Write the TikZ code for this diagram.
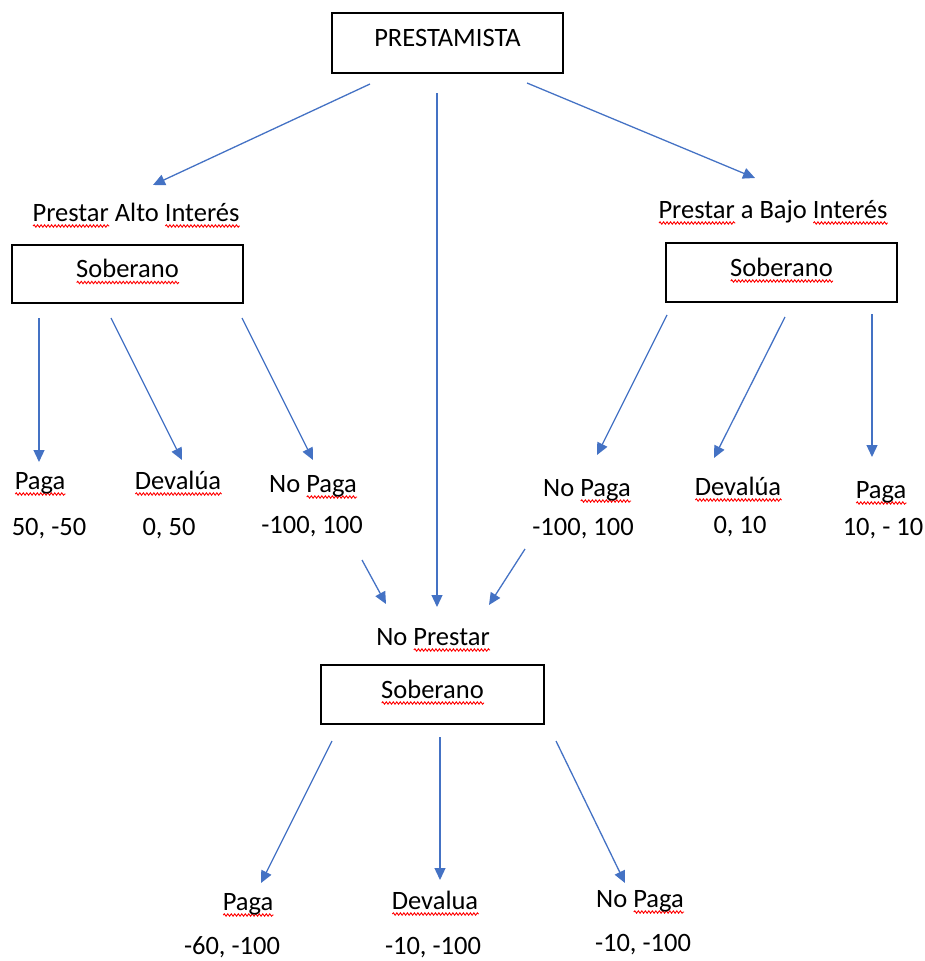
\documentclass[tikz,border=0pt]{standalone}
\usepackage{fontspec}
\setmainfont{Carlito}
\usetikzlibrary{arrows.meta,decorations.pathmorphing}
\definecolor{arrowblue}{HTML}{4472C4}
\newlength\rwlen
\newcommand\rw[1]{\settowidth{\rwlen}{#1}\rlap{\raisebox{-5pt}{\tikz[baseline=0pt,x=1pt,y=1pt]\draw[red,line width=0.9pt,decorate,decoration={snake,amplitude=1.2pt,segment length=3.5pt}] (0,0) -- (\rwlen,0);}}#1}
\tikzset{
  lbl/.style={inner sep=0pt, anchor=base, font=\fontsize{26.5}{30}\selectfont},
  boxnode/.style={draw=black, line width=1.4pt, inner sep=0pt, minimum width=231pt, minimum height=58pt,
    text height=13pt, text depth=6pt, font=\fontsize{26.5}{30}\selectfont},
  arr/.style={draw=arrowblue, line width=1.3pt, -{Triangle[length=12pt,width=11pt]}}
}
\begin{document}
\begin{tikzpicture}[x=1pt,y=-1pt]
\path[use as bounding box] (0,0) rectangle (924,961);
% boxes
\node[boxnode, minimum height=60pt] (root) at (447.5,43) {PRESTAMISTA};
\node[boxnode] (sA) at (127.5,274) {\rw{Soberano}};
\node[boxnode, minimum height=59pt] (sB) at (781.5,272.5) {\rw{Soberano}};
\node[boxnode, minimum width=223pt, minimum height=59pt] (sC) at (432.5,694.5) {\rw{Soberano}};
% branch labels
\node[lbl] (lA) at (136,221) {\rw{Prestar} Alto \rw{Interés}};
\node[lbl] (lB) at (773,218) {\rw{Prestar} a Bajo \rw{Interés}};
\node[lbl] (lC) at (433,645) {No \rw{Prestar}};
% leaves A
\node[lbl] (pA) at (40,489) {\rw{Paga}};
\node[lbl] (dA) at (178,489) {\rw{Devalúa}};
\node[lbl] (nA) at (313,492) {No \rw{Paga}};
\node[lbl] (vA1) at (49,535) {50, -50};
\node[lbl] (vA2) at (169,535) {0, 50};
\node[lbl] (vA3) at (312,533) {-100, 100};
% leaves B
\node[lbl] (nB) at (587,496) {No \rw{Paga}};
\node[lbl] (dB) at (738,495) {\rw{Devalúa}};
\node[lbl] (pB) at (881,498) {\rw{Paga}};
\node[lbl] (vB1) at (583,535) {-100, 100};
\node[lbl] (vB2) at (740,533) {0, 10};
\node[lbl] (vB3) at (883,535) {10, - 10};
% leaves C
\node[lbl] (pC) at (248,910) {\rw{Paga}};
\node[lbl] (dC) at (435,909) {\rw{Devalua}};
\node[lbl] (nC) at (640,907) {No \rw{Paga}};
\node[lbl] (vC1) at (232,954) {-60, -100};
\node[lbl] (vC2) at (433,954) {-10, -100};
\node[lbl] (vC3) at (643,951) {-10, -100};
% connector end points
\coordinate (r1s) at (370,84);  \coordinate (r1e) at (153,185);
\coordinate (r2s) at (437,93);  \coordinate (r2e) at (437,607);
\coordinate (r3s) at (527,83);  \coordinate (r3e) at (755,178);
\coordinate (a1s) at (39,318);  \coordinate (a1e) at (39,462);
\coordinate (a2s) at (111,318); \coordinate (a2e) at (182,460);
\coordinate (a3s) at (242,318); \coordinate (a3e) at (313,460);
\coordinate (b1s) at (667,315); \coordinate (b1e) at (597,455);
\coordinate (b2s) at (785,317); \coordinate (b2e) at (714,458);
\coordinate (b3s) at (872,314); \coordinate (b3e) at (872,457);
\coordinate (m1s) at (362,560); \coordinate (m1e) at (386,604);
\coordinate (m2s) at (525,549); \coordinate (m2e) at (489,605);
\coordinate (c1s) at (332,741); \coordinate (c1e) at (261,883);
\coordinate (c2s) at (440,737); \coordinate (c2e) at (440,880);
\coordinate (c3s) at (556,741); \coordinate (c3e) at (625,883);
% connectors
\foreach \s/\e in {r1s/r1e,r2s/r2e,r3s/r3e,a1s/a1e,a2s/a2e,a3s/a3e,b1s/b1e,b2s/b2e,b3s/b3e,m1s/m1e,m2s/m2e,c1s/c1e,c2s/c2e,c3s/c3e}
  \draw[arr] (\s) -- (\e);
\end{tikzpicture}
\end{document}
